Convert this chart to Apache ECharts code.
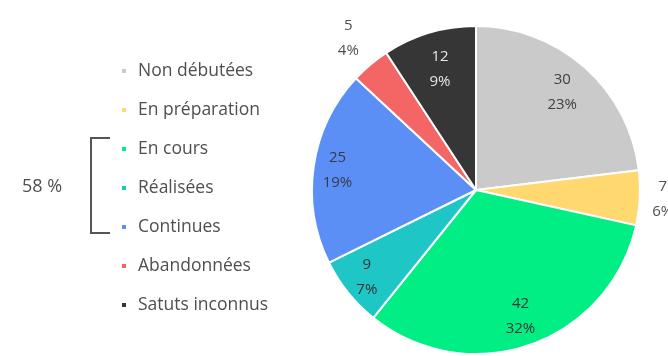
<!DOCTYPE html>
<html>
<head>
<meta charset="utf-8">
<script src="https://cdn.jsdelivr.net/npm/echarts@6/dist/echarts.min.js"></script>
<style>
  html, body { margin: 0; padding: 0; background: #fff; }
  #chart { width: 668px; height: 356px; }
</style>
</head>
<body>
<div id="chart"></div>
<script>
// Statuts des actions
const categories = ['Non débutées', 'En préparation', 'En cours', 'Réalisées', 'Continues', 'Abandonnées', 'Satuts inconnus'];
const counts = [30, 7, 42, 9, 25, 5, 12];
const percentLabels = ['23%', '6%', '32%', '7%', '19%', '4%', '9%'];
const colors = ['#cacaca', '#ffd970', '#00ee84', '#1ec6c6', '#5b8ff5', '#f46565', '#363636'];
const labelColors = ['#404040', '#505050', '#333333', '#333333', '#363b45', '#505050', '#e6e6e6'];
const groupLabel = '58 %';

const center = [476, 190];
const font = '"Open Sans", sans-serif';

function labelText(i) { return counts[i] + '\n' + percentLabels[i]; }

const pieData = categories.map((name, i) => ({
  name, value: counts[i], itemStyle: { color: colors[i] }
}));

// label-only rings share the angles of the main pie; the ring radius sets
// how far from the centre each label sits
function labelRing(shown) {
  return categories.map((name, i) => ({
    name, value: counts[i],
    itemStyle: { color: 'transparent', borderWidth: 0 },
    label: { show: shown.includes(name), color: labelColors[i] }
  }));
}

const ringLabel = {
  position: 'inside',
  fontFamily: font,
  fontSize: 15,
  lineHeight: 25,
  padding: [5, 0, 0, 0],
  formatter: p => labelText(p.dataIndex)
};

function ring(radius, shown) {
  return {
    type: 'pie',
    center,
    radius,
    startAngle: 90,
    clockwise: true,
    silent: true,
    legendHoverLink: false,
    labelLine: { show: false },
    label: ringLabel,
    data: labelRing(shown)
  };
}

const chart = echarts.init(document.getElementById('chart'), null, { renderer: 'canvas' });
chart.setOption({
  backgroundColor: '#fff',
  animation: false,
  legend: {
    orient: 'vertical',
    left: 115,
    top: 57,
    icon: 'rect',
    itemWidth: 6,
    itemHeight: 6,
    itemGap: 21,
    selectedMode: false,
    data: categories,
    textStyle: { fontFamily: font, fontSize: 17.5, lineHeight: 18, color: '#4f4f4f', padding: [0, 0, 0, 6] }
  },
  graphic: [
    {
      type: 'polyline',
      shape: { points: [[110, 138], [91, 138], [91, 233], [110, 233]] },
      style: { stroke: '#555555', lineWidth: 2, fill: null }
    },
    {
      type: 'text',
      x: 22, y: 187,
      style: { text: groupLabel, fontFamily: font, fontSize: 18, fill: '#4f4f4f', verticalAlign: 'middle' }
    }
  ],
  series: [
    {
      type: 'pie',
      center,
      radius: 164,
      startAngle: 90,
      clockwise: true,
      silent: true,
      label: { show: false },
      labelLine: { show: false },
      itemStyle: { borderColor: '#fff', borderWidth: 2 },
      data: pieData
    },
    ring(246, ['Satuts inconnus']),
    ring(254, ['Non débutées']),
    ring(262, ['En cours']),
    ring(274, ['Réalisées', 'Continues']),
    ring(368, ['En préparation']),
    ring(390, ['Abandonnées'])
  ]
});
</script>
</body>
</html>
